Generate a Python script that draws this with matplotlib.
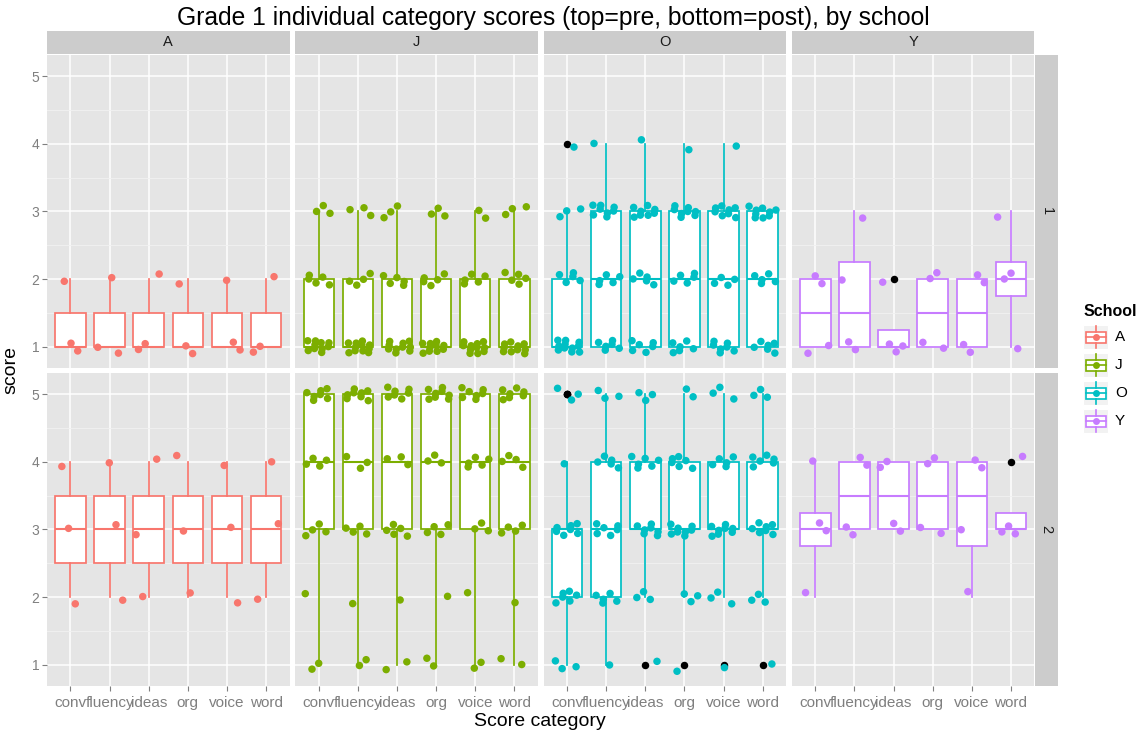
import numpy as np
import matplotlib
matplotlib.use("Agg")
import matplotlib.pyplot as plt
from matplotlib.patches import Rectangle

plt.rcParams['font.family'] = ['Liberation Sans', 'DejaVu Sans']

# ---------------- data ----------------
categories = ["conv", "fluency", "ideas", "org", "voice", "word"]
schools = ["A", "J", "O", "Y"]
times = ["1", "2"]
score_levels = [1, 2, 3, 4, 5]
school_colors = ["#F8766D", "#7CAE00", "#00BFC4", "#C77CFF"]

# counts of students scoring 1..5, per category (conv, fluency, ideas, org, voice, word)
A_pre = [[2, 1, 0, 0, 0], [2, 1, 0, 0, 0], [2, 1, 0, 0, 0],
         [2, 1, 0, 0, 0], [2, 1, 0, 0, 0], [2, 1, 0, 0, 0]]
A_post = [[0, 1, 1, 1, 0], [0, 1, 1, 1, 0], [0, 1, 1, 1, 0],
          [0, 1, 1, 1, 0], [0, 1, 1, 1, 0], [0, 1, 1, 1, 0]]
J_pre = [[10, 5, 3, 0, 0], [11, 4, 3, 0, 0], [10, 5, 3, 0, 0],
         [10, 5, 3, 0, 0], [11, 5, 2, 0, 0], [10, 5, 3, 0, 0]]
J_post = [[2, 1, 4, 4, 7], [2, 1, 4, 3, 8], [2, 1, 5, 3, 7],
          [2, 1, 4, 3, 8], [2, 1, 3, 5, 7], [2, 1, 4, 4, 7]]
O_pre = [[11, 5, 3, 1, 0], [6, 5, 8, 1, 0], [6, 5, 8, 1, 0],
         [6, 5, 8, 1, 0], [7, 4, 8, 1, 0], [6, 5, 9, 0, 0]]
O_post = [[3, 6, 7, 1, 3], [1, 5, 6, 5, 3], [1, 3, 7, 6, 3],
          [1, 3, 8, 6, 2], [1, 3, 8, 5, 3], [1, 3, 7, 6, 3]]
Y_pre = [[2, 2, 0, 0, 0], [2, 1, 1, 0, 0], [3, 1, 0, 0, 0],
         [2, 2, 0, 0, 0], [2, 2, 0, 0, 0], [1, 2, 1, 0, 0]]
Y_post = [[0, 1, 2, 1, 0], [0, 0, 2, 2, 0], [0, 0, 2, 2, 0],
          [0, 0, 2, 2, 0], [0, 1, 1, 2, 0], [0, 0, 3, 1, 0]]

panel_counts = {("A", "1"): A_pre, ("A", "2"): A_post,
                ("J", "1"): J_pre, ("J", "2"): J_post,
                ("O", "1"): O_pre, ("O", "2"): O_post,
                ("Y", "1"): Y_pre, ("Y", "2"): Y_post}

title = "Grade 1 individual category scores (top=pre, bottom=post), by school"

# ---------------- layout ----------------
W, H = 1141, 736
fig = plt.figure(figsize=(W / 100, H / 100), dpi=100, facecolor="white")


def rect(l, t, w, h):
    return [l / W, 1 - (t + h) / H, w / W, h / H]


panel_lefts = [47 + i * 248.3 for i in range(4)]
panel_w = 242.5
row_tops = [55, 373]
panel_h = 313

TICK_C = "#7F7F7F"
G = 1.324717957244746


def jitter(n, k):
    i = np.arange(n) + 11 * k + 3
    u = (0.5 + i / G) % 1
    v = (0.5 + i / G ** 2) % 1
    return (u - 0.5) * 0.7, (v - 0.5) * 0.2


for ci, school in enumerate(schools):
    col = school_colors[ci]
    for ri, t in enumerate(times):
        ax = fig.add_axes(rect(panel_lefts[ci], row_tops[ri], panel_w, panel_h))
        ax.set_facecolor("#E5E5E5")
        for s in ax.spines.values():
            s.set_visible(False)

        counts = panel_counts[(school, t)]
        data = [np.repeat(score_levels, c) for c in counts]
        ax.boxplot(data, positions=range(1, 7), widths=0.78, whis=1.5,
                   patch_artist=True, showcaps=False, manage_ticks=False,
                   boxprops=dict(facecolor="white", edgecolor=col, lw=1.25),
                   whiskerprops=dict(color=col, lw=1.25),
                   medianprops=dict(color=col, lw=1.5),
                   flierprops=dict(marker="o", markerfacecolor="black",
                                   markeredgecolor="none", markersize=5.4),
                   zorder=2)
        for k, d in enumerate(data):
            dx, dy = jitter(len(d), k + 6 * ci + 3 * ri)
            ax.scatter(k + 1 + dx, d + dy, s=29, color=col, edgecolors="none",
                       zorder=4)

        ax.set_xlim(0.4, 6.6)
        ax.set_ylim(0.69, 5.31)
        ax.set_yticks([1, 2, 3, 4, 5])
        ax.set_yticks([1.5, 2.5, 3.5, 4.5], minor=True)
        ax.set_xticks(range(1, 7))
        ax.grid(True, which="major", color="white", lw=1.1, zorder=0)
        ax.grid(True, which="minor", axis="y", color="#F2F2F2", lw=0.6, zorder=0)
        ax.set_axisbelow(True)
        ax.tick_params(which="minor", length=0)
        ax.tick_params(which="major", length=3.5, color=TICK_C, width=0.8,
                       labelcolor=TICK_C, labelsize=10, pad=2)
        ax.tick_params(axis="x", labelsize=11, pad=4)
        if ri == 1:
            ax.set_xticklabels(categories)
        else:
            ax.tick_params(axis="x", length=0, labelbottom=False)
        if ci == 0:
            ax.set_yticklabels(["1", "2", "3", "4", "5"])
        else:
            ax.tick_params(axis="y", length=0, labelleft=False)

# top strips
for ci, school in enumerate(schools):
    sax = fig.add_axes(rect(panel_lefts[ci], 31, panel_w, 23))
    sax.set_facecolor("#CCCCCC")
    sax.set_xticks([]); sax.set_yticks([])
    for s in sax.spines.values():
        s.set_visible(False)
    sax.text(0.5, 0.5, school, ha="center", va="center", fontsize=10.5,
             color="#1A1A1A", transform=sax.transAxes)

# right strips
for ri, t in enumerate(times):
    sax = fig.add_axes(rect(1035, row_tops[ri], 23, panel_h))
    sax.set_facecolor("#CCCCCC")
    sax.set_xticks([]); sax.set_yticks([])
    for s in sax.spines.values():
        s.set_visible(False)
    sax.text(0.5, 0.5, t, ha="center", va="center", fontsize=10.5, rotation=-90,
             color="#1A1A1A", transform=sax.transAxes)

# overlay for titles and legend
ov = fig.add_axes([0, 0, 1, 1], zorder=10)
ov.set_xlim(0, W); ov.set_ylim(H, 0); ov.axis("off")
ov.patch.set_alpha(0)

ov.text(553, 18, title, ha="center", va="center", fontsize=17.7, color="black")
ov.text(540, 721, "Score category", ha="center", va="center", fontsize=14, color="black")
ov.text(11, 370, "score", ha="center", va="center", fontsize=14, rotation=90, color="black")

ov.text(1084, 311, "School", ha="left", va="center", fontsize=11.5,
        fontweight="bold", color="black")
for i, (school, col) in enumerate(zip(schools, school_colors)):
    yc = 337 + i * 28
    ov.add_patch(Rectangle((1083, yc - 12), 25, 24, facecolor="#F2F2F2",
                           edgecolor="white", lw=0.8))
    ov.plot([1095.5, 1095.5], [yc - 11, yc - 5.5], color=col, lw=1.2)
    ov.plot([1095.5, 1095.5], [yc + 5.5, yc + 11], color=col, lw=1.2)
    ov.add_patch(Rectangle((1085.5, yc - 5.5), 20, 11, facecolor="white",
                           edgecolor=col, lw=1.2))
    ov.plot([1085.5, 1105.5], [yc, yc], color=col, lw=1.2)
    ov.plot([1095.5], [yc], marker="o", color=col, markersize=5, markeredgecolor="none")
    ov.text(1115, yc, school, ha="left", va="center", fontsize=11, color="black")

fig.savefig("out.png", dpi=100, facecolor="white")
